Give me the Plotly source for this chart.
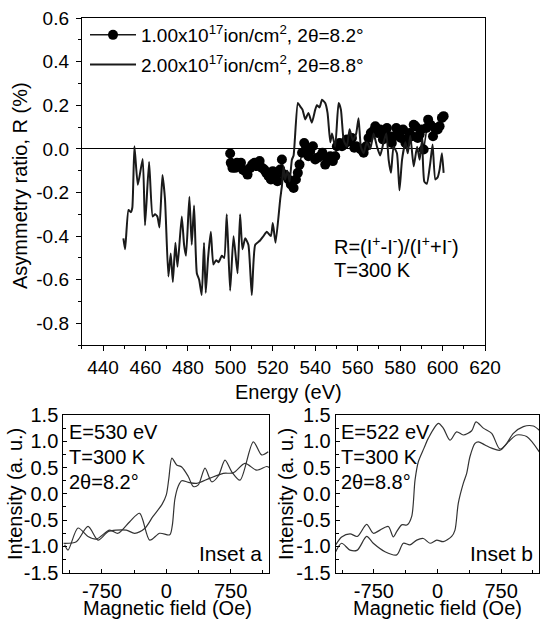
import plotly.graph_objects as go

# ---------------- main panel data ----------------
E_dots = [499.9, 500.2, 501.0, 501.5, 502.3, 503.1, 503.9, 505.0, 505.9, 507.0,
          508.1, 509.4, 510.3, 511.4, 512.5, 513.8, 514.9, 516.0, 516.9, 518.0,
          519.1, 520.0, 521.1, 522.2, 523.5, 524.3, 525.4, 526.3, 527.4, 528.5,
          529.8, 530.9, 531.8, 532.6, 533.8, 534.8, 535.7, 536.8, 537.6, 538.9,
          540.0, 541.1, 542.3, 543.4, 544.7, 545.8, 547.1, 548.3, 549.4, 550.2,
          551.5, 552.6, 553.7, 554.9, 556.2, 557.3, 558.4, 559.3, 560.4, 561.5,
          562.8, 564.0, 565.1, 566.2, 567.2, 568.3, 569.4, 570.6, 571.9, 573.0,
          573.8, 575.0, 576.1, 577.3, 578.2, 579.3, 580.4, 581.4, 582.5, 583.3,
          584.5, 585.6, 586.4, 587.2, 588.3, 589.2, 590.0, 591.1, 592.4, 593.2,
          594.3, 595.5, 596.6, 597.7, 598.6, 599.7, 600.5]
R_dots = [-0.021, -0.064, -0.087, -0.072, -0.087, -0.064, -0.079, -0.064, -0.095, -0.102,
          -0.118, -0.087, -0.072, -0.064, -0.079, -0.056, -0.087, -0.095, -0.110, -0.125,
          -0.140, -0.102, -0.125, -0.148, -0.095, -0.049, -0.118, -0.125, -0.140, -0.163,
          -0.179, -0.140, -0.110, -0.072, -0.018, 0.027, 0.005, -0.034, -0.011, 0.012,
          -0.049, -0.041, -0.034, -0.018, -0.072, -0.049, -0.034, -0.056, -0.034, 0.012,
          0.027, 0.012, 0.020, 0.043, 0.035, 0.050, 0.005, 0.012, 0.005, -0.003,
          -0.018, 0.012, 0.050, 0.073, 0.081, 0.104, 0.073, 0.089, 0.043, 0.058,
          0.096, 0.058, 0.027, 0.058, 0.096, 0.073, 0.050, 0.089, 0.027, 0.043,
          0.073, 0.058, 0.111, 0.104, 0.050, 0.066, 0.089, -0.003, 0.096, 0.134,
          0.111, 0.058, 0.096, 0.089, 0.104, 0.142, 0.150]

E_line = [449.6, 450.4, 452.0, 453.1, 453.8, 454.8, 456.4, 458.7, 459.8, 461.7,
          463.4, 464.5, 465.6, 466.6, 468.0, 469.2, 470.8, 471.9, 472.9, 474.1,
          475.1, 477.1, 478.2, 479.1, 480.7, 481.8, 482.9, 484.2, 485.3, 486.5,
          487.6, 488.4, 489.5, 490.8, 492.0, 493.3, 494.4, 496.0, 497.1, 498.3,
          499.9, 501.5, 503.4, 504.6, 505.7, 507.0, 508.5, 510.1, 511.7, 514.0,
          515.6, 517.2, 519.1, 520.0, 521.3, 523.5, 524.3, 525.1, 525.8, 526.9,
          527.9, 529.0, 529.8, 531.8, 532.9, 534.0, 535.3, 536.8, 538.4, 540.0,
          540.8, 542.0, 543.2, 544.7, 545.8, 547.1, 547.9, 549.4, 551.0, 552.1,
          553.4, 554.9, 556.2, 557.7, 559.3, 560.4, 561.5, 562.8, 564.3, 565.9,
          567.5, 569.1, 570.6, 572.2, 573.5, 574.6, 575.7, 576.9, 578.5, 579.7,
          580.9, 582.5, 583.6, 584.8, 586.4, 588.0, 589.2, 590.3, 591.4, 592.6,
          594.2, 595.3, 596.6, 597.7, 598.6, 599.7, 600.5]
R_line = [-0.41, -0.46, -0.28, -0.29, -0.27, 0.012, -0.165, -0.046, -0.35, -0.06,
          -0.31, -0.30, -0.31, -0.36, -0.12, -0.23, -0.585, -0.48, -0.61, -0.43,
          -0.54, -0.31, -0.44, -0.49, -0.22, -0.44, -0.26, -0.57, -0.60, -0.67,
          -0.43, -0.66, -0.50, -0.38, -0.53, -0.51, -0.52, -0.49, -0.50, -0.30,
          -0.65, -0.40, -0.57, -0.30, -0.46, -0.41, -0.44, -0.67, -0.44, -0.42,
          -0.40, -0.38, -0.40, -0.34, -0.43, -0.23, -0.17, -0.08, -0.14, -0.10,
          -0.15, -0.05, -0.03, 0.21, 0.195, 0.18, 0.135, 0.165, 0.12, 0.18,
          0.20, 0.19, 0.225, 0.21, 0.165, 0.03, 0.07, 0.01, 0.21, 0.18,
          0.04, 0.01, 0.09, 0.04, 0.07, 0.14, 0.01, -0.02, 0.03, 0.0,
          0.07, 0.01, -0.03, 0.03, 0.07, -0.05, -0.11, 0.01, -0.02, -0.19,
          -0.05, 0.03, -0.02, 0.06, -0.08, 0.01, -0.05, 0.04, -0.15, -0.16,
          -0.065, 0.02, -0.14, -0.13, -0.095, -0.02, -0.11]

main_xticks = [440, 460, 480, 500, 520, 540, 560, 580, 600, 620]
main_xminor = [430, 450, 470, 490, 510, 530, 550, 570, 590, 610]
main_yticks = [-0.8, -0.6, -0.4, -0.2, 0.0, 0.2, 0.4, 0.6]
main_ylabels = ["-0.8", "-0.6", "-0.4", "-0.2", "0.0", "0.2", "0.4", "0.6"]
main_yminor = [-0.9, -0.7, -0.5, -0.3, -0.1, 0.1, 0.3, 0.5]

# ---------------- inset a data ----------------
Ha_up = [-1184, -1145, -1029, -912, -815, -660, -562, -426, -310, -193, -77, 40,
         70, 100, 140, 180, 256, 354, 509, 664, 781, 917, 1053, 1170, 1200]
Ia_up = [-0.97, -1.07, -0.65, -0.81, -0.86, -0.69, -0.75, -0.53, -0.37, -0.88, -0.75, -0.78,
         -0.60, -0.10, 0.15, 0.25, 0.22, 0.20, 0.30, 0.39, 0.40, 0.58, 0.45, 0.52, 0.50]
Ha_dn = [-1200, -1048, -912, -795, -679, -582, -465, -368, -252, -155, -50, 0,
         30, 65, 121, 179, 256, 315, 373, 451, 529, 606, 684, 762, 859, 1014, 1111, 1188]
Ia_dn = [-0.94, -0.91, -0.62, -0.88, -0.72, -0.69, -0.69, -0.75, -0.66, -0.43, -0.20, -0.02,
         0.30, 0.68, 0.55, 0.51, 0.33, 0.14, 0.17, 0.49, 0.23, 0.34, 0.64, 0.42, 0.26, 0.99, 0.74, 0.80]

# ---------------- inset b data ----------------
Hb_dn = [-1200, -1130, -1031, -945, -835, -757, -678, -580, -521, -481, -422, -356,
         -304, -265, -226, -159, -108, 10, 68, 147, 226, 304, 403, 454, 540, 639,
         737, 855, 934, 1051, 1200]
Ib_dn = [-0.97, -0.82, -0.76, -0.81, -0.58, -0.75, -0.69, -0.62, -0.82, -0.72, -0.59, -0.59,
         -0.43, 0.26, 0.61, 0.87, 1.06, 1.34, 1.25, 1.02, 1.18, 1.12, 1.20, 1.37, 1.25, 1.15,
         0.85, 1.02, 1.12, 1.09, 0.80]
Hb_up = [-1200, -1130, -1031, -945, -835, -757, -619, -481, -403, -324, -245, -167,
         -88, -9, 68, 167, 206, 245, 304, 344, 383, 442, 481, 560, 639, 737, 816,
         894, 1012, 1130, 1200]
Ib_up = [-1.10, -0.94, -1.07, -1.07, -0.81, -0.94, -1.10, -1.16, -0.94, -0.97, -0.88, -0.85,
         -0.94, -0.88, -0.91, -0.81, -0.69, -0.18, 0.20, 0.39, 0.71, 0.96, 0.99, 0.93, 0.87,
         0.83, 0.96, 1.15, 1.28, 1.29, 1.21]

inset_xticks = [-750, 0, 750]
inset_xlabels = ["-750", "0", "750"]
inset_xminor = [-1125, -375, 375, 1125]
inset_yticks = [-1.5, -1.0, -0.5, 0.0, 0.5, 1.0, 1.5]
inset_ylabels = ["-1.5", "-1.0", "-0.5", "0.0", "0.5", "1.0", "1.5"]
inset_yminor = [-1.25, -0.75, -0.25, 0.25, 0.75, 1.25]

W, H = 540, 619
FONT = "Liberation Sans, Arial, sans-serif"
INK = "#1a1a1a"


def px(x):
    return x / W


def py(y):
    return 1 - y / H


fig = go.Figure()

fig.add_trace(go.Scatter(
    x=E_dots, y=R_dots, mode="lines+markers", legendgroup="a",
    name="1.00x10<sup>17</sup>ion/cm<sup>2</sup>, 2θ=8.2°",
    line=dict(color=INK, width=1.5),
    marker=dict(color="black", size=10, symbol="circle"),
    xaxis="x", yaxis="y"))
fig.add_trace(go.Scatter(
    x=E_line, y=R_line, mode="lines", legendgroup="b",
    name="2.00x10<sup>17</sup>ion/cm<sup>2</sup>, 2θ=8.8°",
    line=dict(color=INK, width=2, shape="spline", smoothing=0.5),
    xaxis="x", yaxis="y"))

for hx, iy in ((Ha_up, Ia_up), (Ha_dn, Ia_dn)):
    fig.add_trace(go.Scatter(x=hx, y=iy, mode="lines", showlegend=False,
                             line=dict(color="#333333", width=1.2, shape="spline", smoothing=0.8),
                             xaxis="x2", yaxis="y2"))
for hx, iy in ((Hb_up, Ib_up), (Hb_dn, Ib_dn)):
    fig.add_trace(go.Scatter(x=hx, y=iy, mode="lines", showlegend=False,
                             line=dict(color="#333333", width=1.2, shape="spline", smoothing=0.8),
                             xaxis="x3", yaxis="y3"))

axis_common = dict(showline=True, mirror=True, linecolor="black", linewidth=1,
                   showgrid=False, zeroline=False, color="black", automargin=False,
                   tickfont=dict(family=FONT, size=19, color="black"))
inset_font = dict(family=FONT, size=20, color="black")

fig.update_layout(
    width=W, height=H, autosize=False, margin=dict(l=0, r=0, t=0, b=0, pad=0),
    paper_bgcolor="white", plot_bgcolor="white",
    font=dict(family=FONT, size=19, color="black"),
    showlegend=True,
    legend=dict(x=px(85), y=py(16), xanchor="left", yanchor="top",
                bgcolor="rgba(0,0,0,0)", borderwidth=0, itemwidth=46,
                font=dict(family=FONT, size=19, color="black"),
                tracegroupgap=2, itemclick=False),
    xaxis=dict(domain=[px(81.8), px(485)], range=[430, 620], anchor="y",
               tickmode="array", tickvals=main_xticks, ticks="outside", ticklen=5,
               minor=dict(tickmode="array", tickvals=main_xminor, ticks="outside", ticklen=3),
               **axis_common),
    yaxis=dict(domain=[py(345.2), py(18)], range=[-0.9, 0.6], anchor="x",
               tickmode="array", tickvals=main_yticks, ticktext=main_ylabels,
               ticks="outside", ticklen=5, ticklabelstandoff=3,
               minor=dict(tickmode="array", tickvals=main_yminor, ticks="outside", ticklen=3),
               **{**axis_common, "zeroline": True}, zerolinecolor="black", zerolinewidth=1),
    xaxis2=dict(domain=[px(63.3), px(269.3)], range=[-1200, 1200], anchor="y2",
                tickmode="array", tickvals=inset_xticks, ticktext=inset_xlabels,
                ticks="inside", ticklen=4,
                minor=dict(tickmode="array", tickvals=inset_xminor, ticks="inside", ticklen=3),
                **{**axis_common, "tickfont": inset_font}),
    yaxis2=dict(domain=[py(572.7), py(415)], range=[-1.5, 1.5], anchor="x2",
                tickmode="array", tickvals=inset_yticks, ticktext=inset_ylabels,
                ticks="inside", ticklen=4,
                minor=dict(tickmode="array", tickvals=inset_yminor, ticks="inside", ticklen=3),
                **{**axis_common, "tickfont": inset_font}),
    xaxis3=dict(domain=[px(335.7), px(539.3)], range=[-1200, 1200], anchor="y3",
                tickmode="array", tickvals=inset_xticks, ticktext=inset_xlabels,
                ticks="inside", ticklen=4,
                minor=dict(tickmode="array", tickvals=inset_xminor, ticks="inside", ticklen=3),
                **{**axis_common, "tickfont": inset_font}),
    yaxis3=dict(domain=[py(572.7), py(415)], range=[-1.5, 1.5], anchor="x3",
                tickmode="array", tickvals=inset_yticks, ticktext=inset_ylabels,
                ticks="inside", ticklen=4,
                minor=dict(tickmode="array", tickvals=inset_yminor, ticks="inside", ticklen=3),
                **{**axis_common, "tickfont": inset_font}),
)

ann = []


def add_text(text, x, y, size=20, xanchor="left", angle=0):
    ann.append(dict(text=text, x=px(x), y=py(y), xref="paper", yref="paper",
                    xanchor=xanchor, yanchor="middle", showarrow=False, textangle=angle,
                    font=dict(family=FONT, size=size, color="black")))


add_text("Asymmetry ratio, R (%)", 20, 186, 20, "center", -90)
add_text("Energy (eV)", 288, 392, 20, "center")
add_text("R=(I<sup>+</sup>-I<sup>-</sup>)/(I<sup>+</sup>+I<sup>-</sup>)", 332, 245, 20)
add_text("T=300 K", 332, 270, 20)

add_text("E=530 eV", 67, 432, 20)
add_text("T=300 K", 67, 457, 20)
add_text("2θ=8.2°", 67, 482, 20)
add_text("Inset a", 264, 553, 21, "right")
add_text("Intensity (a. u.)", 15, 494, 20, "center", -90)
add_text("Magnetic field (Oe)", 167, 608, 20, "center")

add_text("E=522 eV", 339, 432, 20)
add_text("T=300 K", 339, 457, 20)
add_text("2θ=8.8°", 339, 482, 20)
add_text("Inset b", 535, 553, 21, "right")
add_text("Intensity (a. u.)", 286, 494, 20, "center", -90)
add_text("Magnetic field (Oe)", 437, 608, 20, "center")

fig.update_layout(annotations=ann)

fig.write_html(
    "out.html",
    post_script="document.body.style.margin='0';document.body.style.overflow='hidden';"
                "document.documentElement.style.overflow='hidden';",
)
